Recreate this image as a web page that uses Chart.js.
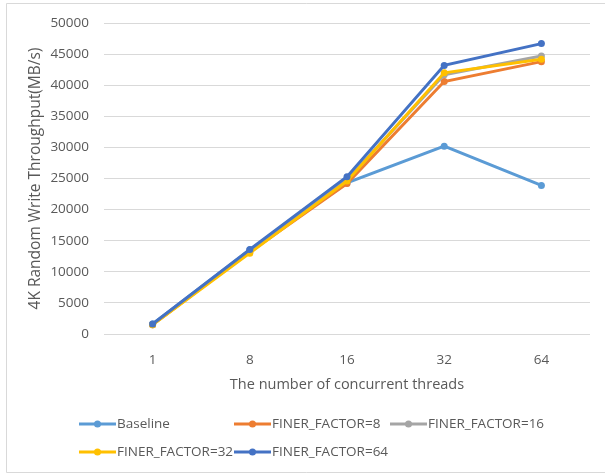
<!DOCTYPE html>
<html>
<head>
<meta charset="utf-8">
<script src="https://cdn.jsdelivr.net/npm/chart.js@4.4.1/dist/chart.umd.min.js"></script>
<style>
  html, body { margin: 0; padding: 0; background: #ffffff; }
  #wrap { position: relative; width: 605px; height: 475px; }
</style>
</head>
<body>
<div id="wrap"><canvas id="c" width="605" height="475"></canvas></div>
<script>
// Thread counts on the x axis
const threads = ['1', '8', '16', '32', '64'];

// Throughput (MB/s) per configuration
const baseline = [1600, 13500, 24300, 30200, 23900];
const finer8   = [1500, 13200, 24200, 40600, 43800];
const finer16  = [1500, 13300, 24800, 41700, 44700];
const finer32  = [1500, 13000, 24600, 42000, 44200];
const finer64  = [1600, 13600, 25300, 43200, 46700];

const seriesNames = ['Baseline', 'FINER_FACTOR=8', 'FINER_FACTOR=16', 'FINER_FACTOR=32', 'FINER_FACTOR=64'];
const seriesData = [baseline, finer8, finer16, finer32, finer64];
const seriesColors = ['#5B9BD5', '#ED7D31', '#A5A5A5', '#FFC000', '#4472C4'];

const FONT = "'Open Sans', sans-serif";
const TEXT = '#595959';

const datasets = seriesNames.map((name, i) => ({
  label: name,
  data: seriesData[i],
  borderColor: seriesColors[i],
  backgroundColor: seriesColors[i],
  borderWidth: 3,
  pointRadius: 3.5,
  pointHoverRadius: 3.5,
  pointBorderWidth: 0,
  tension: 0,
  order: seriesNames.length - i
}));

// Frame around the whole chart
const framePlugin = {
  id: 'frame',
  beforeDraw(chart) {
    const ctx = chart.ctx;
    ctx.save();
    ctx.fillStyle = '#ffffff';
    ctx.fillRect(0, 0, chart.width, chart.height);
    ctx.strokeStyle = '#d9d9d9';
    ctx.lineWidth = 1;
    ctx.beginPath();
    ctx.moveTo(610, 3.5);
    ctx.lineTo(6.5, 3.5);
    ctx.lineTo(6.5, 472.5);
    ctx.lineTo(610, 472.5);
    ctx.stroke();
    ctx.restore();
  }
};

// Legend laid out in fixed-width columns below the axis title
const gridLegendPlugin = {
  id: 'gridLegend',
  afterDraw(chart) {
    const ctx = chart.ctx;
    const colX = [79, 234, 390];
    const rowY = [424, 452];
    ctx.save();
    ctx.font = '13.5px ' + FONT;
    ctx.textBaseline = 'middle';
    ctx.textAlign = 'left';
    chart.data.datasets.forEach((ds, i) => {
      const x = colX[i % 3];
      const y = rowY[Math.floor(i / 3)];
      ctx.strokeStyle = ds.borderColor;
      ctx.lineWidth = 3;
      ctx.beginPath();
      ctx.moveTo(x, y);
      ctx.lineTo(x + 37, y);
      ctx.stroke();
      ctx.fillStyle = ds.borderColor;
      ctx.beginPath();
      ctx.arc(x + 18.5, y, 3.5, 0, Math.PI * 2);
      ctx.fill();
      ctx.fillStyle = TEXT;
      ctx.fillText(ds.label, x + 38, y);
    });
    ctx.restore();
  }
};

new Chart(document.getElementById('c'), {
  type: 'line',
  data: { labels: threads, datasets: datasets },
  plugins: [framePlugin, gridLegendPlugin],
  options: {
    responsive: false,
    animation: false,
    devicePixelRatio: 1,
    layout: { padding: { left: 6, right: 15, top: 21, bottom: 81 } },
    plugins: {
      legend: { display: false },
      tooltip: { enabled: false }
    },
    scales: {
      x: {
        offset: true,
        afterFit(scale) { scale.height = 60; },
        grid: { display: false },
        border: { display: false },
        ticks: { color: TEXT, font: { family: FONT, size: 13.5 }, padding: 10 },
        title: {
          display: true,
          text: 'The number of concurrent threads',
          color: TEXT,
          font: { family: FONT, size: 14.5 },
          padding: { top: 3, bottom: 0 }
        }
      },
      y: {
        min: 0,
        max: 50000,
        afterFit(scale) { scale.width = 98; },
        ticks: {
          stepSize: 5000,
          color: TEXT,
          font: { family: FONT, size: 13.5 },
          padding: 15,
          callback: (v) => String(v)
        },
        grid: { color: '#d9d9d9', lineWidth: 1, drawTicks: false },
        border: { display: false },
        title: {
          display: true,
          text: '4K Random Write Throughput(MB/s)',
          color: TEXT,
          font: { family: FONT, size: 15.5 },
          padding: { top: 20, bottom: 0 }
        }
      }
    }
  }
});
</script>
</body>
</html>
